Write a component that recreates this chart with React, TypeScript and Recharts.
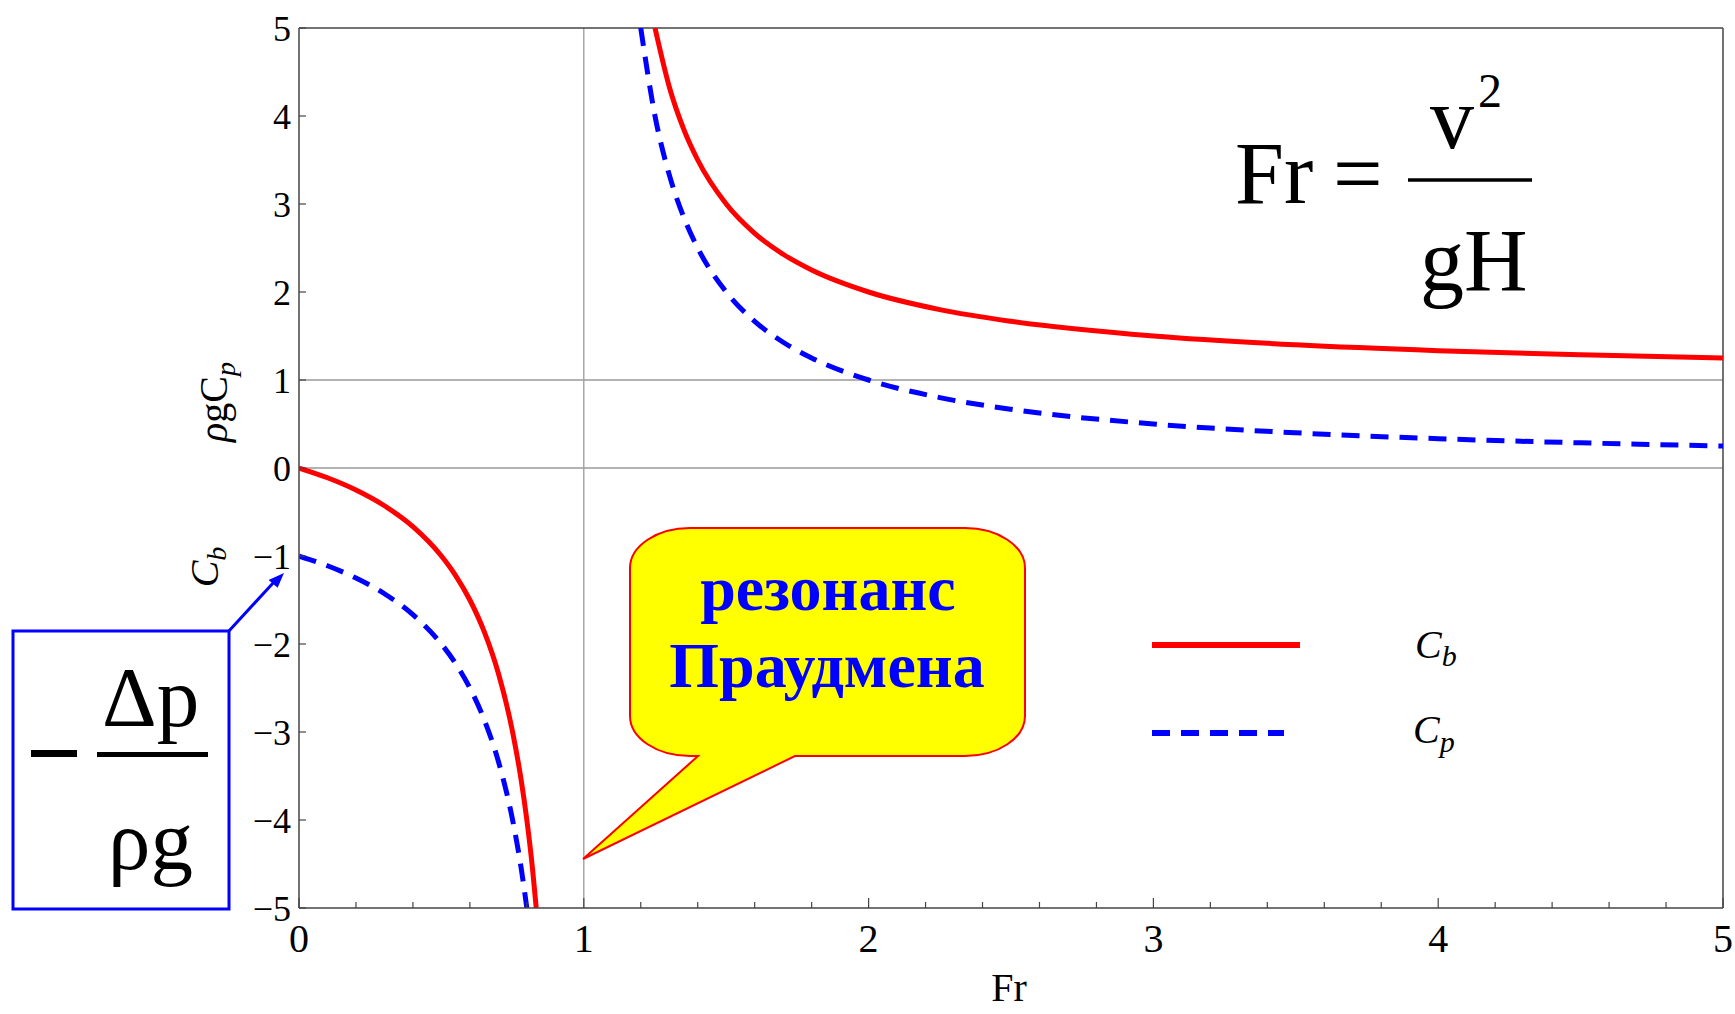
import React from 'react';
import { LineChart, Line, XAxis, YAxis, ReferenceLine } from 'recharts';

// ---- data ----
const cbLeftFr = [0, 0.1, 0.2, 0.3, 0.4, 0.5, 0.55, 0.6, 0.65, 0.7, 0.75, 0.78, 0.8, 0.82, 0.833];
const cbLeftVal = [0, -0.111, -0.25, -0.429, -0.667, -1.0, -1.222, -1.5, -1.857, -2.333, -3.0, -3.545, -4.0, -4.556, -5.0];

const cbRightFr = [1.25, 1.3, 1.35, 1.4, 1.5, 1.6, 1.7, 1.8, 2.0, 2.25, 2.5, 3.0, 3.5, 4.0, 4.5, 5.0];
const cbRightVal = [5.0, 4.333, 3.857, 3.5, 3.0, 2.667, 2.429, 2.25, 2.0, 1.8, 1.667, 1.5, 1.4, 1.333, 1.286, 1.25];

const cpLeftFr = [0, 0.1, 0.2, 0.3, 0.4, 0.5, 0.55, 0.6, 0.65, 0.7, 0.75, 0.78, 0.8];
const cpLeftVal = [-1.0, -1.111, -1.25, -1.429, -1.667, -2.0, -2.222, -2.5, -2.857, -3.333, -4.0, -4.545, -5.0];

const cpRightFr = [1.2, 1.25, 1.3, 1.35, 1.4, 1.5, 1.6, 1.7, 1.8, 2.0, 2.25, 2.5, 3.0, 3.5, 4.0, 4.5, 5.0];
const cpRightVal = [5.0, 4.0, 3.333, 2.857, 2.5, 2.0, 1.667, 1.429, 1.25, 1.0, 0.8, 0.667, 0.5, 0.4, 0.333, 0.286, 0.25];

const xTicks = [0, 0.2, 0.4, 0.6, 0.8, 1, 1.2, 1.4, 1.6, 1.8, 2, 2.2, 2.4, 2.6, 2.8, 3, 3.2, 3.4, 3.6, 3.8, 4, 4.2, 4.4, 4.6, 4.8, 5];
const yTicks = [-5, -4, -3, -2, -1, 0, 1, 2, 3, 4, 5];
const gridY = [0, 1];
const gridX = [1];

const seriesNames = ['C_b', 'C_p'];

const toPoints = (xs: number[], ys: number[]) => xs.map((x, i) => ({ x, y: ys[i] }));

const cbLeft = toPoints(cbLeftFr, cbLeftVal);
const cbRight = toPoints(cbRightFr, cbRightVal);
const cpLeft = toPoints(cpLeftFr, cpLeftVal);
const cpRight = toPoints(cpRightFr, cpRightVal);

const SERIF = 'Liberation Serif, Times New Roman, DejaVu Serif, serif';
const AXIS = '#444';
const GRID = '#9a9a9a';
const RED = '#ff0000';
const BLUE = '#0000ff';
const DASH = '18 11';

const W = 1735;
const H = 1014;

const XTick = (props: any) => {
  const { x, y, payload } = props;
  const v = payload.value as number;
  const major = Math.abs(v - Math.round(v)) < 1e-6;
  return (
    <g>
      <line x1={x} x2={x} y1={y} y2={y - (major ? 10 : 6)} stroke={AXIS} strokeWidth={1.2} />
      {major && (
        <text x={x} y={y + 44} textAnchor="middle" style={{ fontFamily: SERIF }} fontSize={40} fill="#000">
          {String(v)}
        </text>
      )}
    </g>
  );
};

const YTick = (props: any) => {
  const { x, y, payload } = props;
  const v = payload.value as number;
  const label = v < 0 ? `\u2212${-v}` : `${v}`;
  return (
    <g>
      <line x1={x} x2={x + 7} y1={y} y2={y} stroke={AXIS} strokeWidth={1.2} />
      <text x={x - 8} y={y} dy="0.35em" textAnchor="end" style={{ fontFamily: SERIF }} fontSize={36} fill="#000">
        {label}
      </text>
    </g>
  );
};

const Overlay = () => (
  <svg width={W} height={H} style={{ position: 'absolute', left: 0, top: 0, pointerEvents: 'none', fontFamily: SERIF }}>
    {/* axis label Fr */}
    <text x={1009} y={1001} textAnchor="middle" fontSize={40} fill="#000">Fr</text>

    {/* rotated y labels */}
    <g transform="translate(227,402) rotate(-90)">
      <text x={0} y={0} textAnchor="middle" fontSize={40} fill="#000">
        <tspan fontStyle="italic">ρ</tspan>
        <tspan>gC</tspan>
        <tspan fontStyle="italic" fontSize={28} dy={8}>p</tspan>
      </text>
    </g>
    <g transform="translate(218,567) rotate(-90)">
      <text x={0} y={0} textAnchor="middle" fontSize={40} fill="#000">
        <tspan fontStyle="italic">C</tspan>
        <tspan fontStyle="italic" fontSize={28} dy={8}>b</tspan>
      </text>
    </g>

    {/* formula */}
    <text x={1235} y={203} fontSize={88} fill="#000">Fr</text>
    <text x={1333} y={203} fontSize={88} fill="#000">=</text>
    <line x1={1408} x2={1532} y1={180} y2={180} stroke="#000" strokeWidth={3.5} />
    <text x={1430} y={148} fontSize={88} fill="#000">v</text>
    <text x={1478} y={107} fontSize={48} fill="#000">2</text>
    <text x={1420} y={290} fontSize={88} fill="#000">gH</text>

    {/* legend */}
    <line x1={1152} x2={1300} y1={645} y2={645} stroke={RED} strokeWidth={6} />
    <text x={1415} y={658} fontSize={40} fontStyle="italic" fill="#000">
      C<tspan fontSize={30} dy={8}>b</tspan>
    </text>
    <line x1={1152} x2={1284} y1={733} y2={733} stroke={BLUE} strokeWidth={6} strokeDasharray={DASH} />
    <text x={1413} y={743} fontSize={40} fontStyle="italic" fill="#000">
      C<tspan fontSize={30} dy={9}>p</tspan>
    </text>

    {/* callout */}
    <path
      d="M 690,528 L 965,528 A 60 40 0 0 1 1025,568 L 1025,716 A 60 40 0 0 1 965,756 L 795,756 L 583,859 L 698,756 L 690,756 A 60 40 0 0 1 630,716 L 630,568 A 60 40 0 0 1 690,528 Z"
      fill="#ffff00"
      stroke={RED}
      strokeWidth={2}
    />
    <text x={828} y={610} textAnchor="middle" fontWeight="bold" fontSize={64} fill={BLUE}>резонанс</text>
    <text x={827} y={687} textAnchor="middle" fontWeight="bold" fontSize={64} fill={BLUE}>Праудмена</text>

    {/* boxed expression */}
    <rect x={13} y={631} width={216} height={278} fill="#fff" stroke={BLUE} strokeWidth={3} />
    <rect x={31} y={750} width={46} height={7} fill="#000" />
    <rect x={97} y={752} width={111} height={5} fill="#000" />
    <text x={102} y={726} fontSize={85} fill="#000">Δp</text>
    <text x={108} y={869} fontSize={85} fill="#000">ρg</text>

    {/* arrow */}
    <line x1={228} y1={632} x2={274} y2={582} stroke={BLUE} strokeWidth={3} />
    <polygon points="284,573 277.6,587.7 268.6,579.9" fill={BLUE} />
  </svg>
);

export default function App() {
  return (
    <div style={{ position: 'absolute', left: 0, top: 0, width: W, height: H, background: '#fff' }}>
      <LineChart width={W} height={H} margin={{ top: 28, right: 12, left: 0, bottom: 0 }}>
        <XAxis
          type="number"
          dataKey="x"
          domain={[0, 5]}
          ticks={xTicks}
          interval={0}
          allowDataOverflow
          height={106}
          tickSize={0}
          tickMargin={0}
          tick={<XTick />}
          axisLine={{ stroke: AXIS, strokeWidth: 1.5 }}
          tickLine={false}
        />
        <YAxis
          type="number"
          dataKey="y"
          domain={[-5, 5]}
          ticks={yTicks}
          interval={0}
          allowDataOverflow
          width={299}
          tickSize={0}
          tickMargin={0}
          tick={<YTick />}
          axisLine={{ stroke: AXIS, strokeWidth: 1.5 }}
          tickLine={false}
        />
        {gridY.map((v) => (
          <ReferenceLine key={`gy${v}`} y={v} stroke={GRID} strokeWidth={1.3} />
        ))}
        {gridX.map((v) => (
          <ReferenceLine key={`gx${v}`} x={v} stroke={GRID} strokeWidth={1.3} />
        ))}
        <ReferenceLine y={5} stroke={AXIS} strokeWidth={1.5} />
        <ReferenceLine x={5} stroke={AXIS} strokeWidth={1.5} />
        <Line data={cbLeft} dataKey="y" name={seriesNames[0]} type="monotone" stroke={RED} strokeWidth={5} dot={false} isAnimationActive={false} />
        <Line data={cbRight} dataKey="y" name={seriesNames[0] + ' '} type="monotone" stroke={RED} strokeWidth={5} dot={false} isAnimationActive={false} />
        <Line data={cpLeft} dataKey="y" name={seriesNames[1]} type="monotone" stroke={BLUE} strokeWidth={5} strokeDasharray={DASH} dot={false} isAnimationActive={false} />
        <Line data={cpRight} dataKey="y" name={seriesNames[1] + ' '} type="monotone" stroke={BLUE} strokeWidth={5} strokeDasharray={DASH} dot={false} isAnimationActive={false} />
      </LineChart>
      <Overlay />
    </div>
  );
}
